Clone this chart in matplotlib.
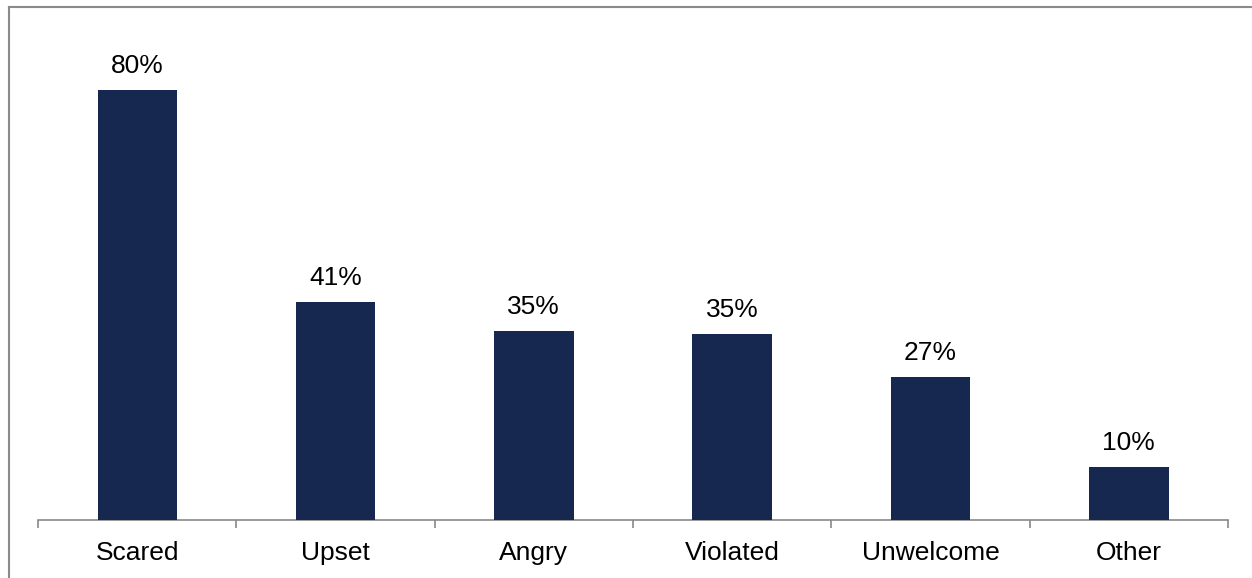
import matplotlib
matplotlib.use("Agg")
import matplotlib.pyplot as plt
from matplotlib.lines import Line2D
import numpy as np

categories = ["Scared", "Upset", "Angry", "Violated", "Unwelcome", "Other"]
values = [80, 40.6, 35.2, 34.6, 26.6, 9.9]
labels = ["80%", "41%", "35%", "35%", "27%", "10%"]

plt.rcParams['font.family'] = ['Liberation Sans', 'DejaVu Sans']

W, H = 1252, 578
fig = plt.figure(figsize=(W / 100, H / 100), dpi=100)
fig.patch.set_facecolor("white")

left = 38 / W
right = 1228 / W
bottom = 1 - 520 / H
height = (5.375 * 90) / H
ax = fig.add_axes([left, bottom, right - left, height])

x = np.arange(len(categories))
bar_color = "#16284f"
ax.bar(x, values, width=0.4, color=bar_color, zorder=3)
for xi, v, lab in zip(x, values, labels):
    ax.annotate(lab, (xi, v), xytext=(0, 8.5), textcoords="offset points",
                ha="center", va="bottom", fontsize=19, color="black")

ax.set_xlim(-0.5, len(categories) - 0.5)
ax.set_ylim(0, 90)
ax.set_yticks([])
for s in ["top", "right", "left"]:
    ax.spines[s].set_visible(False)
ax.spines["bottom"].set_color("#898989")
ax.spines["bottom"].set_linewidth(1.2)

ax.set_xticks(x)
ax.set_xticklabels(categories, fontsize=19)
ax.tick_params(axis="x", which="major", length=0, pad=15)
ax.set_xticks(np.arange(-0.5, len(categories), 1.0), minor=True)
ax.tick_params(axis="x", which="minor", length=6, width=1.2, color="#898989")

# figure frame (left and top lines)
fig.add_artist(Line2D([8.5 / W, 8.5 / W], [0, 1 - 7 / H], transform=fig.transFigure,
                      color="#8a8a8a", linewidth=1.5))
fig.add_artist(Line2D([8.5 / W, 1], [1 - 7 / H, 1 - 7 / H], transform=fig.transFigure,
                      color="#8a8a8a", linewidth=1.5))

fig.savefig("out.png", dpi=100, facecolor="white")
